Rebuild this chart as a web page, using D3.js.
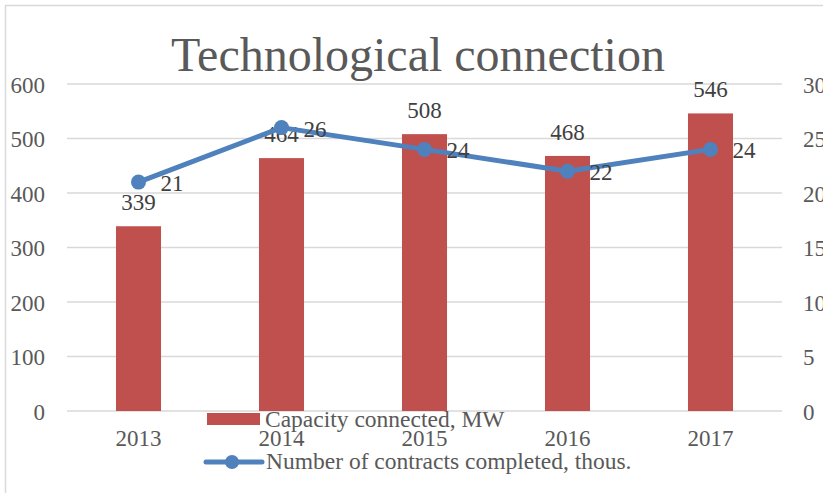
<!DOCTYPE html>
<meta charset="utf-8">
<title>Technological connection</title>
<body style="margin:0;background:#fff">
<style>
svg text { font-family: "Liberation Serif", "Times New Roman", serif; }
.tick text { fill: #595959; font-size: 23px; }
.lbl { fill: #404040; font-size: 23px; }
</style>
<svg id="chart" width="823" height="493" font-family="Liberation Serif"></svg>
<script src="https://d3js.org/d3.v7.min.js"></script>
<script>
var years = ["2013", "2014", "2015", "2016", "2017"];
var capacity = [339, 464, 508, 468, 546];
var contracts = [21, 26, 24, 22, 24];
var leftTicks = [0, 100, 200, 300, 400, 500, 600];
var rightTicks = [0, 5, 10, 15, 20, 25, 30];

var serif = "'Liberation Serif', 'Times New Roman', serif";
var svg = d3.select("#chart");
var margin = {left: 67, right: 41, top: 84, bottom: 82};
var w = 823 - margin.left - margin.right,
    h = 493 - margin.top - margin.bottom;

// chart frame
svg.append("rect")
  .attr("x", 5.5).attr("y", 5.5)
  .attr("width", 840).attr("height", 500)
  .attr("fill", "#fff").attr("stroke", "#d9d9d9").attr("stroke-width", 1.5);

svg.append("text")
  .attr("x", 418).attr("y", 71)
  .attr("text-anchor", "middle")
  .style("font-size", "48px").style("fill", "#595959")
  .text("Technological connection");

var g = svg.append("g").attr("transform", "translate(" + margin.left + "," + margin.top + ")");

var x = d3.scaleBand().domain(years).range([0, w]).paddingInner(0.685).paddingOuter(0.3425);
var yL = d3.scaleLinear().domain([0, 600]).range([h, 0]);
var yR = d3.scaleLinear().domain([0, 30]).range([h, 0]);

// gridlines
g.selectAll(".grid").data(leftTicks).enter().append("line")
  .attr("x1", 0).attr("x2", w)
  .attr("y1", function(d) { return yL(d); }).attr("y2", function(d) { return yL(d); })
  .attr("stroke", "#d9d9d9").attr("stroke-width", 1.5);

var axL = g.append("g").call(d3.axisLeft(yL).tickValues(leftTicks).tickSize(0).tickPadding(22))
  .attr("font-family", serif).attr("font-size", 23);
axL.select(".domain").remove();
axL.selectAll("text").attr("dy", "0.35em");

var axR = g.append("g").attr("transform", "translate(" + w + ",0)")
  .call(d3.axisRight(yR).tickValues(rightTicks).tickSize(0).tickPadding(21))
  .attr("font-family", serif).attr("font-size", 23);
axR.select(".domain").remove();
axR.selectAll("text").attr("dy", "0.35em");

var axB = g.append("g").attr("transform", "translate(0," + h + ")")
  .call(d3.axisBottom(x).tickSize(0).tickPadding(19))
  .attr("font-family", serif).attr("font-size", 23);
axB.select(".domain").remove();

// bars
g.selectAll(".bar").data(capacity).enter().append("rect")
  .attr("x", function(d, i) { return x(years[i]); })
  .attr("width", x.bandwidth())
  .attr("y", function(d) { return yL(d); })
  .attr("height", function(d) { return h - yL(d); })
  .attr("fill", "#c0504d");

g.selectAll(".blbl").data(capacity).enter().append("text")
  .attr("class", "lbl")
  .attr("x", function(d, i) { return x(years[i]) + x.bandwidth() / 2; })
  .attr("y", function(d) { return yL(d) - 16; })
  .attr("text-anchor", "middle")
  .text(function(d) { return d; });

// line
var cx = function(i) { return x(years[i]) + x.bandwidth() / 2; };
var line = d3.line().x(function(d, i) { return cx(i); }).y(function(d) { return yR(d); });
g.append("path").datum(contracts)
  .attr("d", line).attr("fill", "none")
  .attr("stroke", "#4f81bd").attr("stroke-width", 5).attr("stroke-linejoin", "round");

g.selectAll(".dot").data(contracts).enter().append("circle")
  .attr("cx", function(d, i) { return cx(i); })
  .attr("cy", function(d) { return yR(d); })
  .attr("r", 7.5).attr("fill", "#4f81bd");

g.selectAll(".llbl").data(contracts).enter().append("text")
  .attr("class", "lbl")
  .attr("x", function(d, i) { return cx(i) + 22; })
  .attr("y", function(d) { return yR(d) + 9; })
  .text(function(d) { return d; });

// legend
var lg = svg.append("g").style("font-size", "23.5px").style("fill", "#595959");
lg.append("rect").attr("x", 207).attr("y", 413).attr("width", 53).attr("height", 12).attr("fill", "#c0504d");
lg.append("text").attr("x", 265).attr("y", 427).text("Capacity connected, MW");
lg.append("line").attr("x1", 206).attr("x2", 262).attr("y1", 462).attr("y2", 462)
  .attr("stroke", "#4f81bd").attr("stroke-width", 5).attr("stroke-linecap", "round");
lg.append("circle").attr("cx", 232).attr("cy", 462).attr("r", 7).attr("fill", "#4f81bd");
lg.append("text").attr("x", 266).attr("y", 469).text("Number of contracts completed, thous.");
</script>
</body>
